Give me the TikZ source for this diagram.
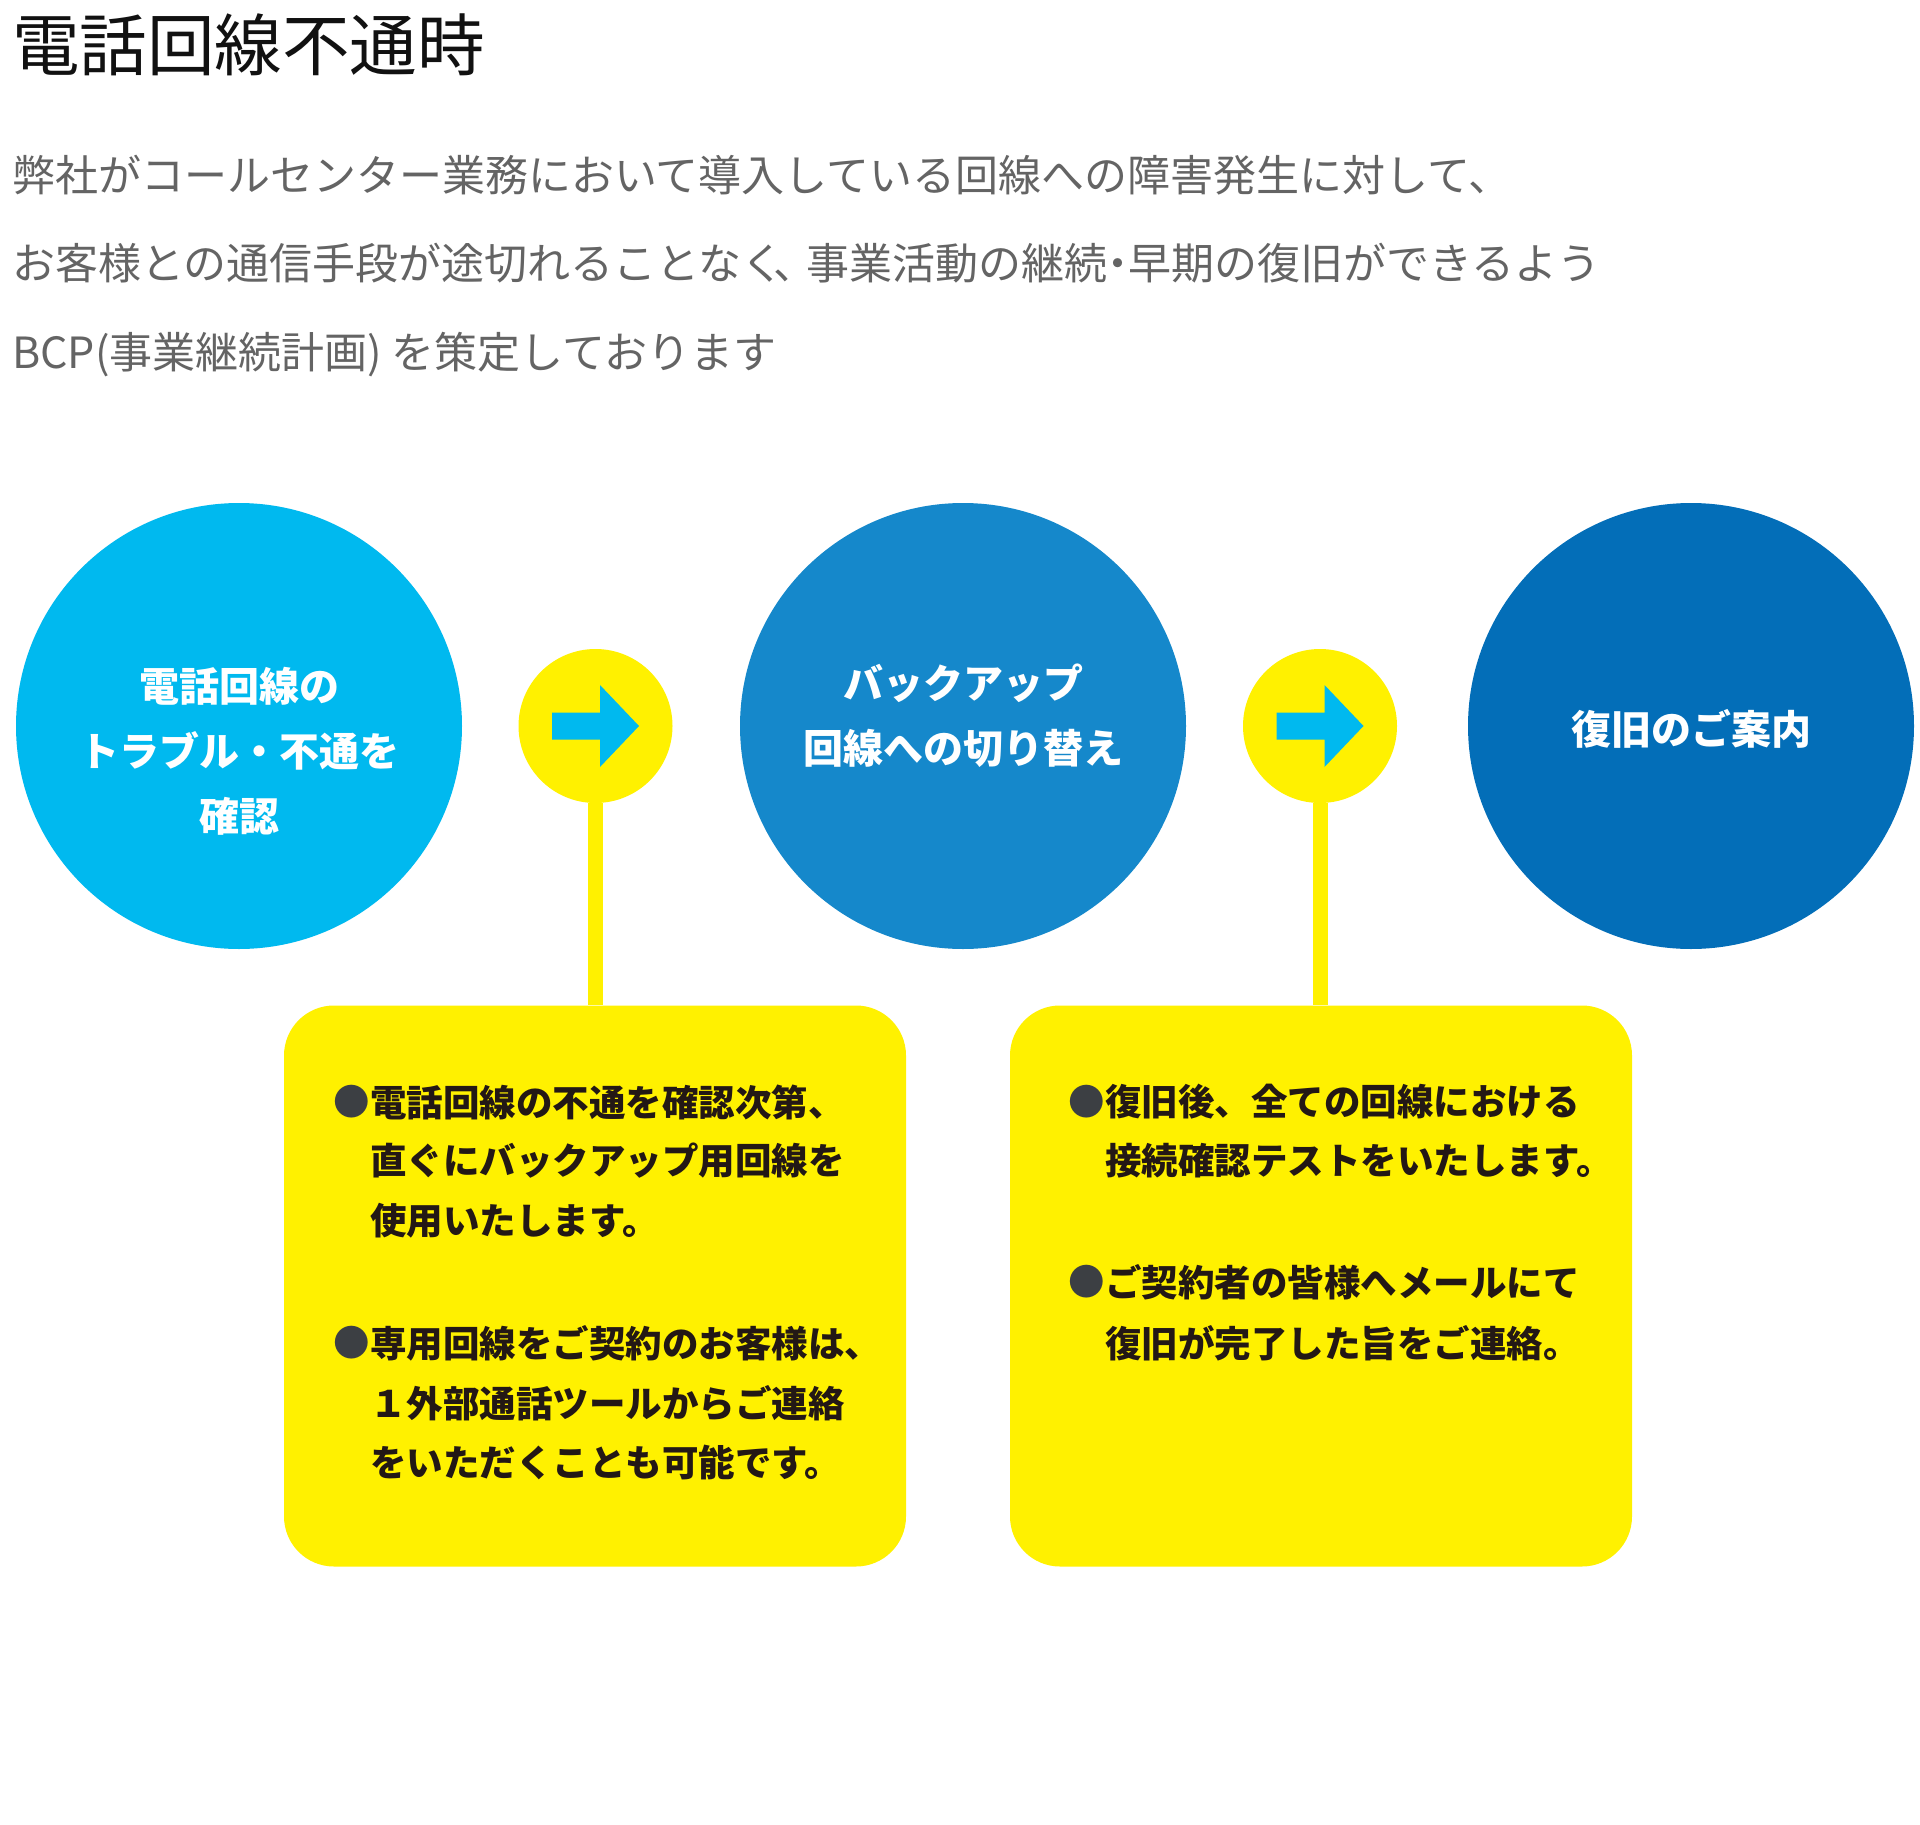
\documentclass[tikz,border=0pt]{standalone}
\usepackage{fontspec}
\setmainfont{Noto Sans CJK JP}
\usetikzlibrary{calc}
\definecolor{cyanA}{HTML}{00B9EF}
\definecolor{blueB}{HTML}{1588CB}
\definecolor{blueC}{HTML}{036EB8}
\definecolor{ylw}{HTML}{FFF100}
\definecolor{ink}{HTML}{231815}
\definecolor{dotc}{HTML}{3C3F43}
\definecolor{grayt}{HTML}{646464}
\definecolor{titlec}{HTML}{111111}
\newcommand{\halfp}[1]{\hspace{-0.25em}#1\hspace{-0.25em}}
\tikzset{
  big/.style={circle, inner sep=0pt, minimum size=446pt},
  ctext/.style={inner sep=0pt, text=white, align=center, font=\fontsize{40}{65}\selectfont\bfseries},
  hub/.style={circle, fill=ylw, inner sep=0pt, minimum size=154pt},
  card/.style={rounded corners=50pt, fill=ylw, minimum width=622pt, minimum height=561pt, inner sep=0pt},
  stem/.style={draw=ylw, line width=15pt},
  ln/.style={anchor=west, inner sep=0pt, text=ink, font=\fontsize{36.5}{36.5}\selectfont\bfseries},
  bul/.style={anchor=west, inner sep=0pt, text=dotc, font=\fontsize{36.5}{36.5}\selectfont},
  para/.style={anchor=west, inner sep=0pt, text=grayt, font=\fontsize{43}{43}\selectfont},
  arrowshape/.style={fill=cyanA}
}
\begin{document}
\begin{tikzpicture}[x=1pt,y=-1pt]
\useasboundingbox (0,0) rectangle (1920,1825);
\fill[white] (0,0) rectangle (1920,1825);

% title and intro
\node[anchor=west, inner sep=0pt, text=titlec, font=\fontsize{67.5}{67.5}\selectfont] (title) at (12,45) {電話回線不通時};
\node[para] (p1) at (12,175) {弊社がコールセンター業務において導入している回線への障害発生に対して、};
\node[para] (p2) at (12,263) {お客様との通信手段が途切れることなく\halfp{、}事業活動の継続\halfp{・}早期の復旧ができるよう};
\node[para] (p3) at (12,355) {BCP(事業継続計画) を策定しております};

% big circles
\node[big, fill=cyanA] (c1) at (239,726) {};
\node[big, fill=blueB] (c2) at (963,726) {};
\node[big, fill=blueC] (c3) at (1691,726) {};
\node[ctext] (c1t) at (239,751) {電話回線の\\トラブル・不通を\\確認};
\node[ctext] (c2t) at (963,716) {バックアップ\\回線への切り替え};
\node[ctext] (c3t) at (1691,729) {復旧のご案内};

% cards
\node[card] (b1) at (595,1286) {};
\node[card] (b2) at (1321,1286) {};

% hubs with stems
\node[hub] (h1) at (595.5,726) {};
\node[hub] (h2) at (1320,726) {};
\draw[stem] (h1.south) -- (h1.south |- b1.north);
\draw[stem] (h2.south) -- (h2.south |- b2.north);

\begin{scope}[shift={(h1.center)}]
\fill[arrowshape] (-43.5,-13.5) -- (4.5,-13.5) -- (4.5,-41) -- (43.5,0) -- (4.5,41) -- (4.5,13.5) -- (-43.5,13.5) -- cycle;
\end{scope}
\begin{scope}[shift={(h2.center)}]
\fill[arrowshape] (-43.5,-13.5) -- (4.5,-13.5) -- (4.5,-41) -- (43.5,0) -- (4.5,41) -- (4.5,13.5) -- (-43.5,13.5) -- cycle;
\end{scope}

% card 1 text
\node[bul] (d11) at (333,1102) {●};
\node[ln] (l11) at (370,1102) {電話回線の不通を確認次第、};
\node[ln] (l12) at (370,1161) {直ぐにバックアップ用回線を};
\node[ln] (l13) at (370,1221) {使用いたします。};
\node[bul] (d12) at (333,1343) {●};
\node[ln] (l14) at (370,1343) {専用回線をご契約のお客様は、};
\node[ln] (l15) at (370,1403) {１外部通話ツールからご連絡};
\node[ln] (l16) at (370,1462) {をいただくことも可能です。};

% card 2 text
\node[bul] (d21) at (1068,1102) {●};
\node[ln] (l21) at (1105,1102) {復旧後、全ての回線における};
\node[ln] (l22) at (1105,1161) {接続確認テストをいたします。};
\node[bul] (d22) at (1068,1282) {●};
\node[ln] (l23) at (1105,1282) {ご契約者の皆様へメールにて};
\node[ln] (l24) at (1105,1343) {復旧が完了した旨をご連絡。};
\end{tikzpicture}
\end{document}
